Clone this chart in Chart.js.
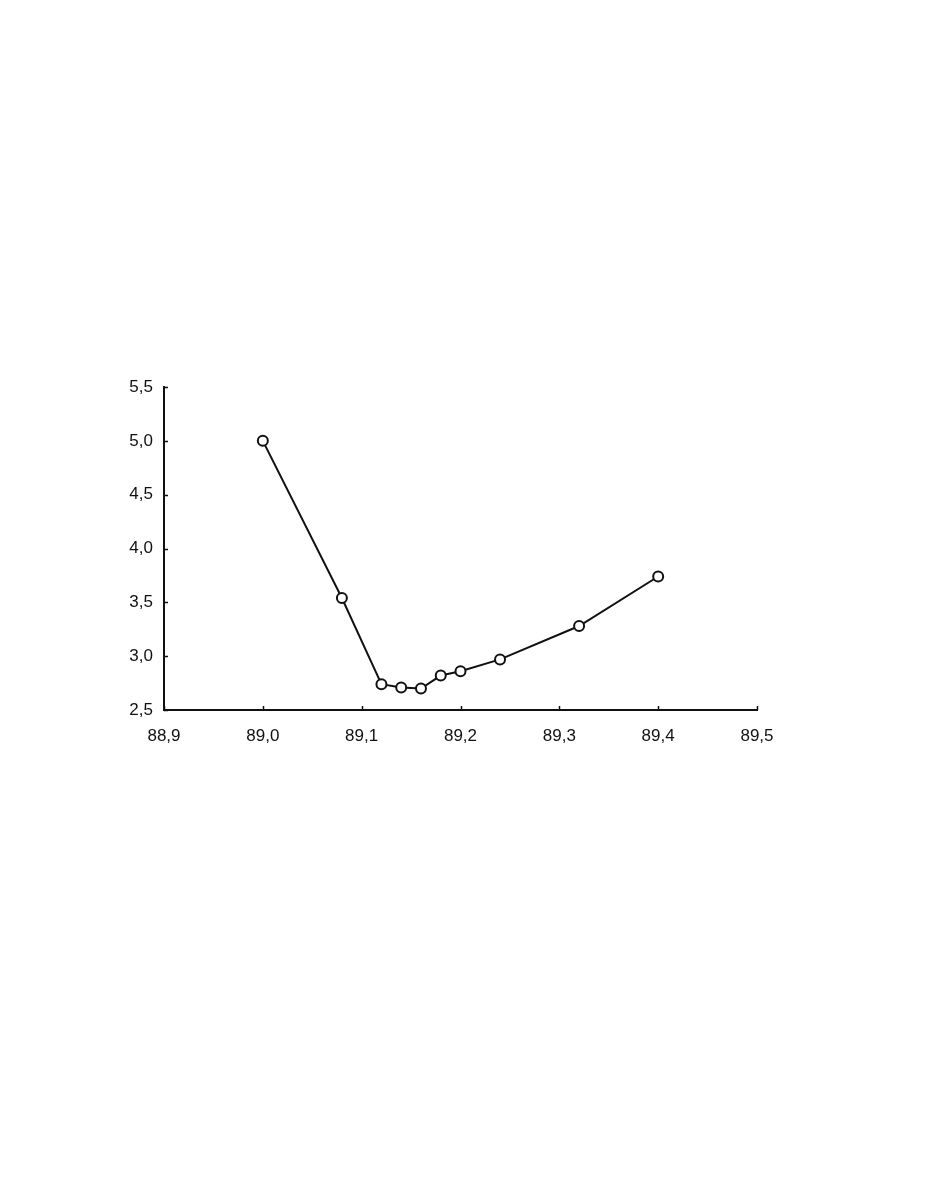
<!DOCTYPE html>
<html>
<head>
<meta charset="utf-8">
<script src="https://cdn.jsdelivr.net/npm/chart.js@4/dist/chart.umd.min.js"></script>
<style>
  html, body { margin: 0; padding: 0; background: #fff; }
  #wrap { position: relative; width: 926px; height: 1199px; }
</style>
</head>
<body>
<div id="wrap"><canvas id="curve"></canvas></div>
<script>
// values
const xValues = [89.00, 89.08, 89.12, 89.14, 89.16, 89.18, 89.20, 89.24, 89.32, 89.40];
const yValues = [5.00, 3.54, 2.74, 2.71, 2.70, 2.82, 2.86, 2.97, 3.28, 3.74];
const xTicks = [88.9, 89.0, 89.1, 89.2, 89.3, 89.4, 89.5];
const yTicks = [2.5, 3.0, 3.5, 4.0, 4.5, 5.0, 5.5];

const points = xValues.map((x, i) => ({ x: x, y: yValues[i] }));

// comma decimal separator
function fmt(v) {
    return v.toFixed(1).replace('.', ',');
}

// small tick marks pointing into the plot
const innerTicks = {
    id: 'innerTicks',
    afterDraw(chart) {
        const ctx = chart.ctx;
        const xs = chart.scales.x;
        const ys = chart.scales.y;
        const area = chart.chartArea;
        ctx.save();
        ctx.strokeStyle = '#111';
        ctx.lineWidth = 1.5;
        ctx.beginPath();
        xTicks.forEach(t => {
            const px = Math.round(xs.getPixelForValue(t)) + 0.5;
            ctx.moveTo(px, area.bottom);
            ctx.lineTo(px, area.bottom - 4);
        });
        yTicks.forEach(t => {
            const py = Math.round(ys.getPixelForValue(t)) + 0.5;
            ctx.moveTo(area.left, py);
            ctx.lineTo(area.left + 4, py);
        });
        ctx.stroke();
        ctx.restore();
    }
};

const labelFont = { family: 'Liberation Sans, Arial, sans-serif', size: 17 };

new Chart(document.getElementById('curve'), {
    type: 'scatter',
    data: {
        datasets: [{
            data: points,
            showLine: true,
            borderColor: '#111',
            borderWidth: 2,
            pointRadius: 5,
            pointBorderWidth: 2,
            pointBackgroundColor: '#fff',
            pointBorderColor: '#111',
            tension: 0
        }]
    },
    options: {
        responsive: true,
        maintainAspectRatio: false,
        animation: false,
        layout: { padding: { top: 387, right: 169, bottom: 0, left: 0 } },
        plugins: { legend: { display: false }, tooltip: { enabled: false } },
        scales: {
            x: {
                type: 'linear',
                min: 88.9,
                max: 89.5,
                afterBuildTicks: s => { s.ticks = xTicks.map(v => ({ value: v })); },
                afterFit: s => { s.height = 489; },
                grid: { display: false, drawTicks: false },
                border: { display: true, color: '#111', width: 2 },
                ticks: {
                    color: '#111',
                    padding: 16,
                    maxRotation: 0,
                    font: labelFont,
                    callback: v => fmt(v)
                }
            },
            y: {
                type: 'linear',
                min: 2.5,
                max: 5.5,
                afterBuildTicks: s => { s.ticks = yTicks.map(v => ({ value: v })); },
                afterFit: s => { s.width = 164; },
                grid: { display: false, drawTicks: false },
                border: { display: true, color: '#111', width: 2 },
                ticks: {
                    color: '#111',
                    padding: 11,
                    font: labelFont,
                    callback: v => fmt(v)
                }
            }
        }
    },
    plugins: [innerTicks]
});
</script>
</body>
</html>
